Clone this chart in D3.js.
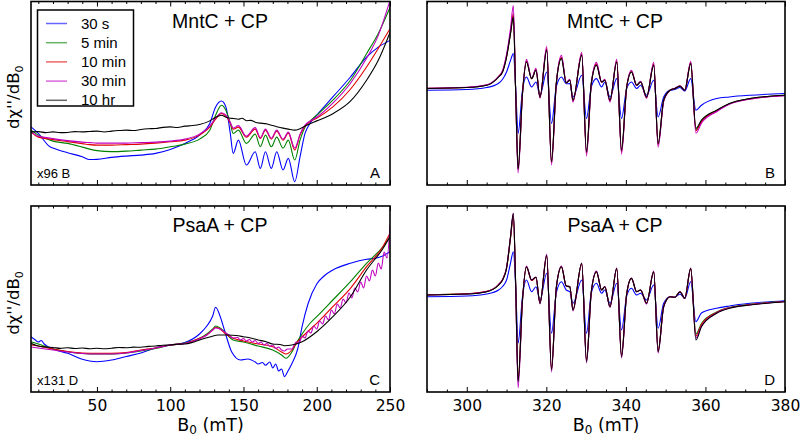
<!DOCTYPE html>
<html><head><meta charset="utf-8">
<script src="https://cdn.jsdelivr.net/npm/d3@7"></script>
<style>body{margin:0;background:#fff}</style>
</head><body><svg id="c" width="800" height="439"></svg>
<script>
const seriesNames = ["30 s","5 min","10 min","30 min","10 hr"];
const seriesColors = ["#0000ff","#008000","#e00000","#c000c0","#000000"];
const ticksLow = [50,100,150,200,250];
const ticksHigh = [300,320,340,360,380];

// Panel A (low field, MntC + CP): [B0 mT, signal]
const A_30s = [[5,58.3],[10,51.7],[18,38.3],[20,37],[30,32.3],[40,28.3],[45,25.5],[50,25.7],[60,27.7],[70,29],[80,30],[90,31.7],[100,35.7],[110,41.7],[120,50],[127,61.7],[131,78.3],[135,84.3],[138,78.3],[141,51.7],[143,31.7],[146.5,45],[152,20],[158,33.3],[161.5,16.7],[165,33.3],[169,16.7],[172.7,33.3],[177,15],[180.6,26.7],[185,3.3],[188.6,28.3],[192,51.7],[195.4,61.7],[200,70],[211,88.3],[223,108.3],[234,128.3],[242,138.3],[250,145]];
const A_5min = [[5,55],[10,50],[18,45],[20,44],[30,41.7],[40,38],[45,36],[50,34.5],[60,33.5],[70,34],[80,35],[90,36],[100,38.3],[110,41],[120,46],[127,55],[131,70],[135,80],[138,75],[141,62],[143,51.7],[146.5,55],[152,41.7],[158,51],[161.5,38.3],[165,50],[169,38.3],[172.7,48],[177,37],[180.6,45],[185,25],[188.6,45],[192,58],[195.4,64],[200,70],[211,85],[223,105],[234,131.7],[242,152],[250,178]];
const A_10min = [[5,53.3],[10,48],[18,46],[20,45.5],[30,43.5],[40,41.5],[45,40.5],[50,40],[60,40],[70,40.5],[80,41],[90,42],[100,43.3],[110,45],[120,50],[127,58],[131,66],[135,71.7],[138,69],[141,62],[143,56],[146.5,58],[152,48],[158,56],[161.5,46.7],[165,55],[169,46],[172.7,54],[177,45],[180.6,52],[185,35],[188.6,50],[192,59],[195.4,63.5],[200,67],[211,78.3],[223,96],[234,118.3],[242,137],[250,156.7]];
const A_30min = [[5,53.3],[10,49],[18,47],[20,46.5],[30,44.5],[40,43],[45,42.5],[50,42],[60,42],[70,42],[80,42.5],[90,43],[100,44],[110,46],[120,51],[127,59],[131,67],[135,72.5],[138,70],[141,63],[143,57],[146.5,59.5],[152,49],[158,57.5],[161.5,47.5],[165,56],[169,47],[172.7,55],[177,46],[180.6,53],[185,37],[188.6,51],[192,60],[195.4,64],[200,68],[211,82],[223,102],[234,127],[242,150],[250,185]];
const A_10hr = [[5,53.3],[10,53.5],[15,52.5],[20,53.3],[25,52.5],[30,52.7],[35,53.5],[40,53.3],[45,53.7],[50,54],[55,53.2],[60,54],[65,54.6],[70,55],[75,54.6],[80,55.7],[85,56.4],[90,56.7],[95,57.8],[100,58.3],[105,57.6],[110,59],[115,59.6],[120,60.7],[127,64.3],[131,68],[135,70],[138,68],[141,67],[143,66.7],[146.5,66],[149,67],[152,64.5],[155,64.8],[158,63],[161.5,62],[165,61.5],[169,60],[172.7,58.5],[177,57],[180.6,56],[185,55],[188.6,56.5],[192,59],[195.4,61.5],[200,64.3],[211,71.5],[223,84],[234,105],[242,125],[250,153]];

// Panel C (low field, PsaA + CP)
const C_30s = [[5,55.3],[8,52],[10,50],[12,51.5],[14,48],[20,43],[30,38.7],[40,32.7],[45,31],[50,30.3],[60,32],[70,35.5],[80,39],[90,44],[100,47],[110,49.5],[120,58],[125,66],[129,76],[131,84.7],[134,76],[137,62],[142,40],[148,32],[153,33],[158,30],[160,28],[163,29.5],[165,26.7],[168,30],[170,24],[172,28],[174,21],[176,23],[178,15.3],[180,20],[183,28.3],[187,43],[190,65.3],[194,88],[200,108],[205,116],[211,122],[223,128.7],[234,132.7],[240,133.7],[245,136],[250,140.3]];
const C_5min = [[5,50.3],[10,48],[20,43],[30,40.3],[40,38.5],[50,38],[60,38],[70,39],[80,41],[90,43.5],[100,47],[110,49],[120,53.7],[125,58],[129,63],[131,66],[134,64],[137,60.3],[143,52],[150,50],[160,46],[170,42],[176,37],[179,33.7],[183,40],[186,48.7],[190,58],[195,68],[200,75.3],[211,92],[223,110.3],[234,128.7],[245,145],[250,155.3]];
const C_10min = [[5,47],[10,46],[20,43],[30,40.5],[40,39],[50,38.7],[60,38.7],[70,39.5],[80,42],[90,44],[100,47],[110,48.5],[120,53.7],[125,57],[129,62],[131,64.7],[134,63],[137,59],[143,53.7],[150,51],[160,48],[170,45.3],[176,40],[179,38],[183,42],[186,48.7],[190,55],[195,62],[200,68.7],[211,85.3],[223,103.7],[234,125.3],[245,145],[250,158.7]];
const C_30min = [[5,45],[10,44],[20,42],[30,40],[40,38.5],[50,38],[60,38],[70,39],[80,41.5],[90,44],[100,47],[110,48.5],[120,53],[125,57],[129,62],[131,64],[134,63],[137,60],[140,57],[143,54],[146,54.5],[148,52],[150,53.5],[152,51],[154,52.5],[156,50],[158,51.5],[160,48.5],[162,50],[164,47],[166,48.5],[168,45.5],[170,47],[172,43.5],[174,45],[176,42],[178,41],[180,43],[183,43],[186,50],[188,49],[190,56],[192,54],[194,61],[196,59],[198,66],[200,63],[202,71],[204,68],[206,76],[208,72],[210,82],[212,78],[214,88],[216,84],[218,93],[220,89],[222,99],[224,94],[226,104],[228,100],[230,110],[232,104],[234,116],[236,111],[238,122],[240,116],[242,129],[244,123],[246,140],[248,134],[250,167]];
const C_10hr = [[5,48.7],[10,46],[15,45],[20,44.5],[25,43.6],[30,44.3],[35,43.5],[40,44],[45,43.2],[50,43.7],[55,43.2],[60,43.8],[65,44.5],[70,44.2],[75,44.9],[80,44.7],[85,45.6],[90,46],[95,46.8],[100,47],[105,47.8],[110,48],[115,49.5],[120,52],[127,55],[133,57],[140,57],[145,56.5],[150,55.3],[155,54],[160,52],[165,50.5],[170,48],[175,47.5],[178,46.3],[183,47],[190,50.3],[200,60.3],[211,75.3],[223,95.3],[234,122],[245,143],[250,155.3]];

// Panels B and D (g = 2 region): shared field grid
const fieldHigh = [290,300,305,308,309,310,311,311.7,312.3,312.9,314,315,316.3,317.4,318.4,320.1,321.3,322.5,323.8,325,325.9,326.7,328.9,330.1,331.3,332.6,333.9,334.7,336,337.7,338.9,340.2,341.4,342.7,343.7,345.2,347,348.1,349.5,351.1,352.3,353.6,354.8,356.3,357.6,359,362.8,366,371.2,380];
const B_30s = [3,3.7,5.7,10,14,21.3,33,39.7,5,-40.3,3,16.3,6.3,11.3,-2,21.3,-30.3,6.3,16.3,9.5,9.7,-3.7,18,-25.3,6.3,14.7,6.3,11.3,-3.7,14.7,-25.3,4.7,11.3,4.7,8,-2,13,-23.7,-3.7,3,3.7,5.7,2.3,14.7,-17,-12,-5.3,-3.7,-2,-0.3];
const B_5min = [4.8,5.8,8.1,16.5,21.8,36.8,60.5,78,0,-76.5,-0.4,32,14.6,23.5,-4,44,-69.5,9.6,35.5,10.5,13.2,-7.5,39,-59.5,9.6,28.8,11.2,13.2,-7.5,32,-58,6.2,21.6,8,11.4,-4,28.8,-51,-7.2,3,4.7,7.1,3,30.4,-36.5,-27.8,-17.4,-10.5,-5.4,-2.1];
const B_10min = [4.9,5.8,8.2,16.8,22,37,61,80,0,-77,-0.5,32.5,14.5,24,-4.5,45,-70,9.5,36,10.5,13.5,-8,39.5,-60.5,9.5,29.5,11,13.5,-8,32.5,-59,6,22,8,11.5,-4.5,29.5,-52,-7.5,3,4.8,7.2,3,31,-37.5,-28.5,-17.8,-10.7,-5.6,-2.2];
const B_30min = [5,6,8.5,17,23,39,65,88,0,-80,-1,34,15,25,-5,47,-72,9,38,11,14,-9,41,-63,9,31,11,14,-9,34,-61,6,23,8,12,-5,31,-54,-8,3,5,7.5,3,32,-40,-30,-18.5,-11,-6,-2.5];
const B_10hr = [4.7,5.7,8,16.3,21.3,36.3,59.7,76.3,0,-76,-0.3,31.3,14.7,23,-3.7,43,-68.7,9.7,34.7,10.5,13,-7,38,-58.7,9.7,28,11.3,13,-7,31.3,-57,6.3,21.3,8,11.3,-3.7,28,-50.3,-7,3,4.7,7,3,29.7,-35.3,-27,-17,-10.3,-5.3,-2];
const D_30s = [1.3,2,4,8,11.5,18,35,46.3,11.3,-45.3,1.3,18,6.3,11.3,-2,24.7,-35.3,5,16.3,8,6.3,-5.3,18,-35.3,5,14.7,4.7,8,-5.3,14.7,-32,2,9.7,3,4.7,-2,13,-30.3,-5.3,1.3,0.7,4,-0.3,16.3,-23.7,-15,-10.3,-8,-5.3,-2.7];
const D_5min = [3.1,4.1,6.4,13.2,18.2,29.8,60.5,83,12,-82.5,-2,31,17.8,20.6,-5.2,42.5,-71.5,10,31.2,12,11.3,-11.8,34.4,-63,6,26.2,8,11.3,-8.6,29.5,-58,4,19.6,6.3,8,-5.2,26.2,-53,-8.6,1.3,0.7,6.3,-0.3,29.4,-36,-25.5,-14,-9.5,-6.4,-3.4];
const D_10min = [3.2,4.2,6.6,13.5,18.5,30,60,82,12,-82,-2,31,17.5,20.5,-5,42,-71,10,31,12,11.3,-11.5,34,-62.5,6,26,8,11.3,-8.5,29.3,-57.5,4,19.5,6.3,8,-5,26,-52.5,-8.5,1.3,0.7,6.3,-0.3,29,-38,-26.5,-14.5,-9.8,-6.6,-3.5];
const D_30min = [3,4,6.5,13.5,18.5,30.5,62,85,10,-90,-3,32,18,21,-6,44,-74,10,32,12,11.5,-13,35,-65,6,27,8,11.5,-9.5,30,-60,4,20,6.3,8,-6,27,-55,-9,1.3,0.7,6.3,-0.5,30,-40,-28,-15,-10,-6.8,-3.5];
const D_10hr = [3,4,6.3,13,18,29.7,61.3,84.7,12,-83.7,-2,31.3,18,20.7,-5.3,43,-72,10,31.3,12,11.3,-12,34.7,-63.7,6,26.3,8,11.3,-8.7,29.7,-58.7,4,19.7,6.3,8,-5.3,26.3,-53.7,-8.7,1.3,0.7,6.3,-0.3,29.7,-42,-28.7,-15.3,-10.3,-7,-3.7];

const zipHigh = ys => fieldHigh.map((x,i)=>[x,ys[i]]);

const svg = d3.select("#c");
const panels = [
  {id:"A", x0:31, x1:390, y0:1.5, y1:185, dom:[5,250], ydom:[0,184], major:ticksLow, minorStep:10, labels:false,
   series:[A_30s,A_5min,A_10min,A_30min,A_10hr], title:"MntC + CP", letter:"A", note:"x96 B", tx:220},
  {id:"B", x0:427, x1:785, y0:1.5, y1:185, dom:[290,380], ydom:[-92,92], major:ticksHigh, minorStep:5, labels:false,
   series:[B_30s,B_5min,B_10min,B_30min,B_10hr].map(zipHigh), title:"MntC + CP", letter:"B", tx:615},
  {id:"C", x0:31, x1:390, y0:206, y1:392, dom:[5,250], ydom:[0,186], major:ticksLow, minorStep:10, labels:true,
   series:[C_30s,C_5min,C_10min,C_30min,C_10hr], title:"PsaA + CP", letter:"C", note:"x131 D", tx:220},
  {id:"D", x0:427, x1:785, y0:206, y1:392, dom:[290,380], ydom:[-94,92], major:ticksHigh, minorStep:5, labels:true,
   series:[D_30s,D_5min,D_10min,D_30min,D_10hr].map(zipHigh), title:"PsaA + CP", letter:"D", tx:615}
];

const defs = svg.append("defs");
panels.forEach(p=>{
  const x = d3.scaleLinear().domain(p.dom).range([p.x0,p.x1]);
  const y = d3.scaleLinear().domain(p.ydom).range([p.y1,p.y0]);
  defs.append("clipPath").attr("id","clip"+p.id).append("rect")
    .attr("x",p.x0).attr("y",p.y0).attr("width",p.x1-p.x0).attr("height",p.y1-p.y0);
  const g = svg.append("g");
  const line = d3.line().x(d=>x(d[0])).y(d=>y(d[1])).curve(d3.curveMonotoneX);
  const lg = g.append("g").attr("clip-path",`url(#clip${p.id})`);
  p.series.forEach((s,i)=>{
    lg.append("path").attr("d",line(s)).attr("fill","none")
      .attr("stroke",seriesColors[i]).attr("stroke-width",1.1);
  });
  const minor = d3.range(Math.ceil(p.dom[0]/p.minorStep)*p.minorStep, p.dom[1]+0.001, p.minorStep)
    .filter(v=>!p.major.includes(v));
  const fixAxis = a => a.call(s=>s.select(".domain").remove());
  g.append("g").attr("transform",`translate(0,${p.y1})`)
    .call(d3.axisBottom(x).tickValues(p.major).tickSize(-5).tickPadding(8).tickFormat(p.labels? d3.format("d") : ""))
    .call(fixAxis)
    .call(a=>a.selectAll("text").attr("font-family","DejaVu Sans").attr("font-size","15.5px").attr("fill","#000"));
  g.append("g").attr("transform",`translate(0,${p.y1})`)
    .call(d3.axisBottom(x).tickValues(minor).tickSize(-2.5).tickFormat("")).call(fixAxis);
  g.append("g").attr("transform",`translate(0,${p.y0})`)
    .call(d3.axisTop(x).tickValues(p.major).tickSize(-5).tickFormat("")).call(fixAxis);
  g.append("g").attr("transform",`translate(0,${p.y0})`)
    .call(d3.axisTop(x).tickValues(minor).tickSize(-2.5).tickFormat("")).call(fixAxis);
  g.selectAll(".tick line").attr("stroke","#000").attr("stroke-width",1);
  g.append("rect").attr("x",p.x0).attr("y",p.y0).attr("width",p.x1-p.x0).attr("height",p.y1-p.y0)
    .attr("fill","none").attr("stroke","#000").attr("stroke-width",1.6);
  g.append("text").attr("x",p.tx).attr("y",p.y0+26)
    .attr("text-anchor","middle").attr("font-family","Liberation Sans, Arial").attr("font-size","19.5px").text(p.title);
  g.append("text").attr("x",p.x1-10).attr("y",p.y1-7).attr("text-anchor","end")
    .attr("font-family","Liberation Sans, Arial").attr("font-size","15px").text(p.letter);
  if(p.note) g.append("text").attr("x",p.x0+6).attr("y",p.y1-7)
    .attr("font-family","Liberation Sans, Arial").attr("font-size","13px").text(p.note);
  if(p.labels){
    const t = g.append("text").attr("x",(p.x0+p.x1)/2).attr("y",431).attr("text-anchor","middle")
      .attr("font-family","DejaVu Sans").attr("font-size","17.5px");
    t.append("tspan").text("B");
    t.append("tspan").attr("font-size","12px").attr("dy",3).text("0");
    t.append("tspan").attr("dy",-3).text(" (mT)");
  }
  if(p.id==="A"||p.id==="C"){
    const cy = (p.y0+p.y1)/2;
    const t = g.append("text").attr("transform",`translate(19,${cy+4}) rotate(-90)`).attr("text-anchor","middle")
      .attr("font-family","DejaVu Sans").attr("font-size","16.5px");
    t.append("tspan").text("d\u03C7''/dB");
    t.append("tspan").attr("font-size","11px").attr("dy",4).text("0");
  }
});

const leg = svg.append("g");
leg.append("rect").attr("x",37.5).attr("y",10).attr("width",96).attr("height",96)
  .attr("fill","#fff").attr("stroke","#000").attr("stroke-width",1.5);
seriesNames.forEach((n,i)=>{
  const yy = 23.5 + i*19.2;
  leg.append("line").attr("x1",46).attr("x2",67).attr("y1",yy).attr("y2",yy)
    .attr("stroke",seriesColors[i]).attr("stroke-opacity",0.6).attr("stroke-width",1.5);
  leg.append("text").attr("x",81).attr("y",yy+5).attr("font-family","Liberation Sans, Arial")
    .attr("font-size","15px").text(n);
});
</script></body></html>
